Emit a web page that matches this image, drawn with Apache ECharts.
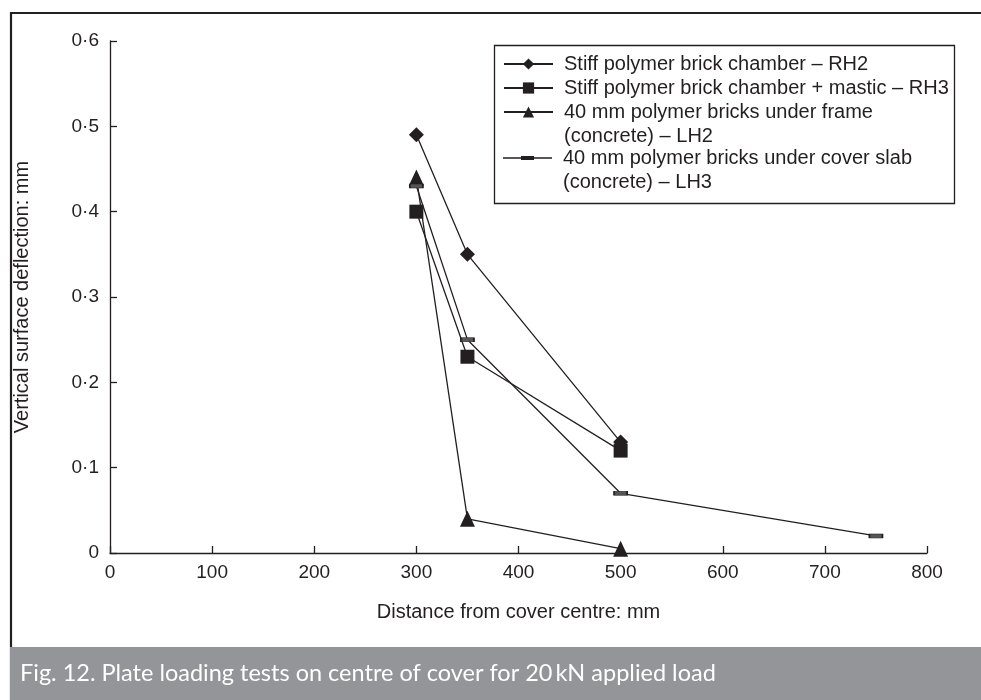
<!DOCTYPE html>
<html>
<head>
<meta charset="utf-8">
<script src="https://cdn.jsdelivr.net/npm/echarts@6/dist/echarts.min.js"></script>
<style>
html,body{margin:0;padding:0;background:#fff;}
#chart{width:981px;height:700px;}
</style>
</head>
<body>
<div id="chart"></div>
<script>
// ---- data ----
const xTicks = [0, 100, 200, 300, 400, 500, 600, 700, 800];
const yTicks = [0, 0.1, 0.2, 0.3, 0.4, 0.5, 0.6];
const namesRH2 = 'Stiff polymer brick chamber – RH2';
const namesRH3 = 'Stiff polymer brick chamber + mastic – RH3';
const namesLH2 = '40 mm polymer bricks under frame\n(concrete) – LH2';
const namesLH3 = '40 mm polymer bricks under cover slab\n(concrete) – LH3';
const xRH2 = [300, 350, 500];
const yRH2 = [0.49, 0.35, 0.13];
const xRH3 = [300, 350, 500];
const yRH3 = [0.40, 0.23, 0.12];
const xLH2 = [300, 350, 500];
const yLH2 = [0.44, 0.04, 0.005];
const xLH3 = [300, 350, 500, 750];
const yLH3 = [0.43, 0.25, 0.07, 0.02];
const captionText = 'Fig. 12. Plate loading tests on centre of cover for 20\u2009kN applied load';

const pairs = (xs, ys) => xs.map((x, i) => [x, ys[i]]);
const ink = '#231f20';
const font = 'Liberation Sans';

const chart = echarts.init(document.getElementById('chart'), null, {renderer: 'canvas'});
const lineStyle = {color: ink, width: 1.3};

const legendText = {fontFamily: font, fontSize: 20, color: ink, lineHeight: 24, padding: [0, 0, 0, 6]};
const legendCommon = {orient: 'vertical', left: 503, itemGap: 0, itemWidth: 49, padding: 0, selectedMode: false, textStyle: legendText};

chart.setOption({
  animation: false,
  backgroundColor: '#fff',
  grid: {left: 110, right: 54, top: 41, bottom: 147, containLabel: false},
  xAxis: {
    type: 'value', min: 0, max: 800, interval: 100,
    name: 'Distance from cover centre: mm', nameLocation: 'middle', nameGap: 49,
    nameTextStyle: {fontFamily: font, fontSize: 20, color: ink},
    axisLine: {lineStyle: {color: ink, width: 1.3}},
    axisTick: {inside: true, length: 7, lineStyle: {color: ink, width: 1.3}},
    axisLabel: {fontFamily: font, fontSize: 19, color: ink, margin: 10},
    splitLine: {show: false}
  },
  yAxis: {
    type: 'value', min: 0, max: 0.6, interval: 0.1,
    name: 'Vertical surface deflection: mm', nameLocation: 'middle', nameGap: 78,
    nameTextStyle: {fontFamily: font, fontSize: 20, color: ink},
    axisLine: {show: true, lineStyle: {color: ink, width: 1.3}},
    axisTick: {show: true, inside: true, length: 7, lineStyle: {color: ink, width: 1.3}},
    axisLabel: {fontFamily: font, fontSize: 19, color: ink, margin: 11,
      formatter: v => v === 0 ? '0' : v.toFixed(1).replace('.', '\u00b7')},
    splitLine: {show: false}
  },
  legend: [
    Object.assign({}, legendCommon, {top: 52, itemHeight: 14, data: [namesRH2, namesRH3]}),
    Object.assign({}, legendCommon, {top: 76, itemHeight: 14, formatter: n => '\n' + n, data: [namesLH2]}),
    Object.assign({}, legendCommon, {top: 122, itemHeight: 4, formatter: n => '\n' + n,
      itemStyle: {color: ink, borderWidth: 0},
      data: [{name: namesLH3, icon: 'path://M0,1.35H18V0H31V1.35H49V2.65H31V4H18V2.65H0Z',
              itemStyle: {color: ink, borderWidth: 0}}]})
  ],
  graphic: [
    {type: 'rect', z: -1, shape: {x: 494.5, y: 45.5, width: 460, height: 158},
     style: {fill: 'none', stroke: ink, lineWidth: 1.3}},
    {type: 'line', shape: {x1: 10, y1: 13, x2: 981, y2: 13}, style: {stroke: ink, lineWidth: 2.2}},
    {type: 'line', shape: {x1: 11, y1: 12, x2: 11, y2: 700}, style: {stroke: ink, lineWidth: 2.2}},
    {type: 'rect', shape: {x: 10, y: 647, width: 971, height: 53}, style: {fill: '#939598'}},
    {type: 'text', x: 20, y: 673, style: {text: captionText, fill: '#ffffff', font: '23.5px Lato', verticalAlign: 'middle'}}
  ],
  series: [
    {name: namesRH2, type: 'line', data: pairs(xRH2, yRH2), symbol: 'diamond', symbolSize: 15,
     lineStyle: lineStyle, itemStyle: {color: ink}, z: 3},
    {name: namesRH3, type: 'line', data: pairs(xRH3, yRH3), symbol: 'rect', symbolSize: 14,
     lineStyle: lineStyle, itemStyle: {color: ink}, z: 3},
    {name: namesLH2, type: 'line', data: pairs(xLH2, yLH2), symbol: 'triangle', symbolSize: [15, 16],
     lineStyle: lineStyle, itemStyle: {color: ink}, z: 3},
    {name: namesLH3, type: 'line', data: pairs(xLH3, yLH3), symbol: 'rect', symbolSize: [13, 4],
     lineStyle: lineStyle, itemStyle: {color: '#555', borderColor: ink, borderWidth: 1}, z: 4}
  ]
});
</script>
</body>
</html>
